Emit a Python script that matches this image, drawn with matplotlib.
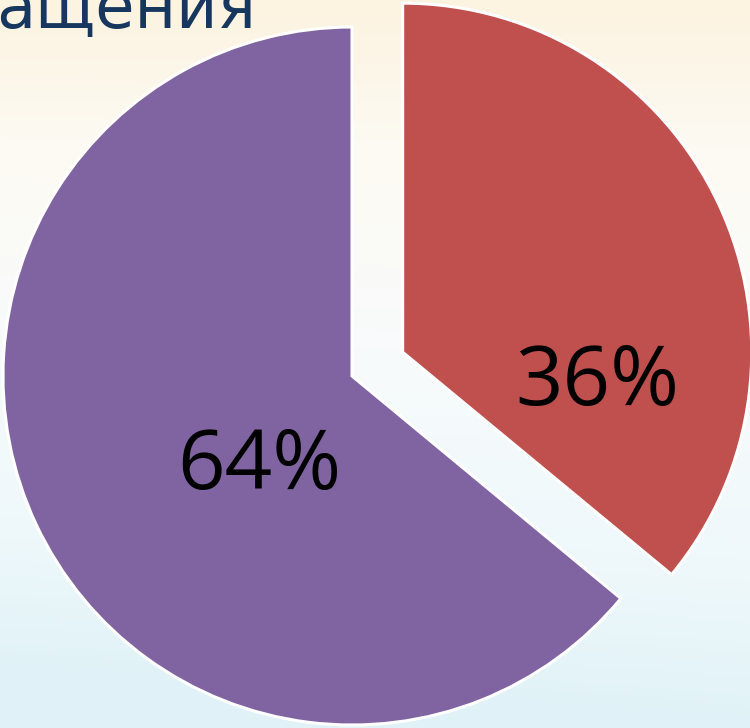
import numpy as np
import matplotlib
matplotlib.use("Agg")
import matplotlib.pyplot as plt
from matplotlib.colors import LinearSegmentedColormap

# Data
categories = ["A", "B"]
values = [36, 64]
pct_labels = ["36%", "64%"]
colors = ["#C0504D", "#8064A2"]
title_fragment = "ащения"

W, H = 750, 728
fig = plt.figure(figsize=(W / 100, H / 100), dpi=100)

# Background gradient
bg = fig.add_axes([0, 0, 1, 1], zorder=0)
bg.axis("off")
cmap = LinearSegmentedColormap.from_list(
    "bg", [(0.0, "#FCF3E0"), (0.2, "#FDFAF2"), (0.5, "#F8FBFC"), (0.8, "#EEF8FB"), (1.0, "#E0F2F7")]
)
yy = np.linspace(0, 1, 256)[:, None]
xx = np.linspace(0, 1, 64)[None, :]
grad = np.clip(yy + 0.08 * (1 - xx) * yy, 0, 1)
bg.imshow(grad, cmap=cmap, aspect="auto", extent=[0, 1, 1, 0], vmin=0, vmax=1)
bg.set_xlim(0, 1)
bg.set_ylim(1, 0)

ax = fig.add_axes([0, 0, 1, 1], zorder=1)
ax.patch.set_alpha(0)
cx, cy, R = 352, 352, 349
wedges, _ = ax.pie(
    values,
    colors=colors,
    startangle=90,
    counterclock=False,
    center=(cx, cy),
    radius=R,
    explode=[56, 0],
    wedgeprops=dict(edgecolor="white", linewidth=2.2),
    frame=True,
)
ax.set_xlim(0, W)
ax.set_ylim(0, H)
ax.set_aspect("equal")
ax.axis("off")

label_pos = [(597, 323), (259, 239)]
for txt, (lx, ly) in zip(pct_labels, label_pos):
    ax.text(lx, ly, txt, ha="center", va="baseline", fontsize=60,
            family="Open Sans", color="black")

ax.text(256, H - 28, title_fragment, ha="right", va="baseline", fontsize=46,
        family="DejaVu Sans", color="#17375E")

fig.savefig("out.png", dpi=100)
